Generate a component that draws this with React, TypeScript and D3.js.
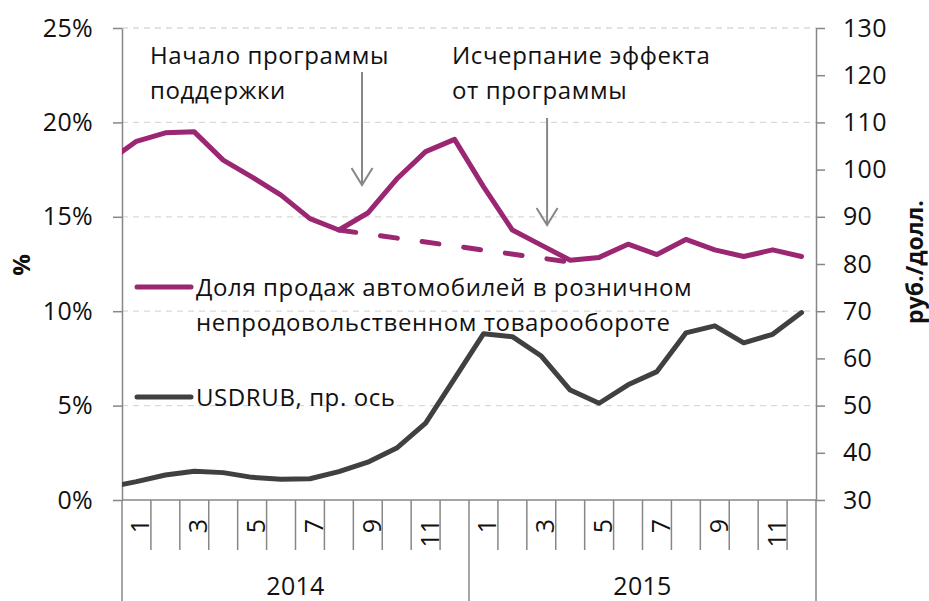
import React, { useEffect, useRef } from 'react';
import * as d3 from 'd3';

// first point of each series is Dec 2013: it sits left of the plot and gets clipped
const monthLabels = ['1', '2', '3', '4', '5', '6', '7', '8', '9', '10', '11', '12',
  '1', '2', '3', '4', '5', '6', '7', '8', '9', '10', '11', '12'];
const years = ['2014', '2015'];

const carShare = [17.9, 19.0, 19.45, 19.5, 18.0, 17.1, 16.15, 14.9, 14.3, 15.2, 17.0, 18.45, 19.1,
  16.6, 14.3, 13.5, 12.7, 12.85, 13.55, 13.0, 13.8, 13.25, 12.9, 13.25, 12.9];
const usdRub = [32.7, 33.9, 35.3, 36.1, 35.8, 34.8, 34.4, 34.5, 36.0, 38.0, 41.0, 46.3, 55.7,
  65.2, 64.6, 60.5, 53.3, 50.5, 54.4, 57.2, 65.4, 66.9, 63.3, 65.1, 69.7];

// dashed "no programme" path, month positions (0 = Jan 2014)
const trendMonths = [7, 15];
const trendValues = [14.3, 12.6];

const leftTicks = [0, 5, 10, 15, 20, 25];
const rightTicks = [30, 40, 50, 60, 70, 80, 90, 100, 110, 120, 130];

const seriesNames = ['Доля продаж автомобилей в розничном', 'непродовольственном товарообороте'];
const usdName = 'USDRUB, пр. ось';
const notes = [
  { lines: ['Начало программы', 'поддержки'], textX: 150, month: 7.8, from: 72, to: 185 },
  { lines: ['Исчерпание эффекта', 'от программы'], textX: 452, month: 14.2, from: 118, to: 225 },
];

const PINK = '#9b2672';
const DARK = '#404040';
const GREY = '#878787';
const FONT = '"Open Sans", sans-serif';

export default function App() {
  const ref = useRef<SVGSVGElement>(null);

  useEffect(() => {
    const W = 929, H = 601;
    const margin = { top: 28, right: 113, bottom: 101, left: 122 };
    const width = W - margin.left - margin.right;
    const height = H - margin.top - margin.bottom;

    const svg = d3.select(ref.current);
    svg.selectAll('*').remove();

    const x = d3.scaleLinear().domain([0, monthLabels.length]).range([0, width]);
    const yL = d3.scaleLinear().domain([0, 25]).range([height, 0]);
    const yR = d3.scaleLinear().domain([30, 130]).range([height, 0]);

    svg.append('defs').append('clipPath').attr('id', 'plot-clip')
      .append('rect').attr('x', 0).attr('y', -10).attr('width', width).attr('height', height + 20);

    const g = svg.append('g').attr('transform', 'translate(' + margin.left + ',' + margin.top + ')');

    // gridlines
    g.append('g').selectAll('line')
      .data(leftTicks.filter(d => d > 0))
      .enter().append('line')
      .attr('x1', 0).attr('x2', width)
      .attr('y1', d => yL(d)).attr('y2', d => yL(d))
      .attr('stroke', '#d9d9d9').attr('stroke-width', 1.3)
      .attr('stroke-dasharray', '6 5');

    // value axes
    const left = g.append('g').call(
      d3.axisLeft(yL).tickValues(leftTicks).tickSize(9).tickSizeOuter(0).tickPadding(20)
        .tickFormat(d => d + '%')
    );
    const right = g.append('g').attr('transform', 'translate(' + width + ',0)').call(
      d3.axisRight(yR).tickValues(rightTicks).tickSize(9).tickSizeOuter(0).tickPadding(18)
    );
    [left, right].forEach(a => {
      a.selectAll('path, line').attr('stroke', GREY).attr('stroke-width', 1.5);
      a.selectAll('text').attr('font-family', FONT).attr('font-size', 25)
        .attr('letter-spacing', 0.3).attr('fill', '#111');
    });

    // category axis
    const bottom = g.append('g').attr('transform', 'translate(0,' + height + ')');
    bottom.append('line').attr('x1', 0).attr('x2', width)
      .attr('stroke', GREY).attr('stroke-width', 1.5);
    bottom.selectAll('.sep')
      .data(d3.range(monthLabels.length + 1))
      .enter().append('line')
      .attr('x1', d => x(d)).attr('x2', d => x(d))
      .attr('y1', 0).attr('y2', d => (d % 12 === 0 ? margin.bottom : 50))
      .attr('stroke', GREY).attr('stroke-width', 1.5);
    bottom.selectAll('.month')
      .data(monthLabels.map((m, i) => ({ m, i })).filter(d => d.i % 2 === 0))
      .enter().append('text')
      .attr('transform', d => 'translate(' + (x(d.i + 0.5) + 3) + ',19) rotate(-90)')
      .attr('text-anchor', 'end')
      .attr('dominant-baseline', 'central')
      .attr('font-family', FONT).attr('font-size', 25).attr('fill', '#111')
      .text(d => d.m);
    bottom.selectAll('.year')
      .data(years)
      .enter().append('text')
      .attr('x', (d, i) => x(i * 12 + 6))
      .attr('y', 95)
      .attr('text-anchor', 'middle')
      .attr('font-family', FONT).attr('font-size', 25).attr('letter-spacing', 0.3).attr('fill', '#111')
      .text(d => d);

    // axis titles
    svg.append('text')
      .attr('transform', 'translate(20,265) rotate(-90)')
      .attr('text-anchor', 'middle').attr('dominant-baseline', 'central')
      .attr('font-family', FONT).attr('font-size', 24).attr('font-weight', 'bold').attr('fill', '#111')
      .text('%');
    svg.append('text')
      .attr('transform', 'translate(914,262) rotate(-90)')
      .attr('text-anchor', 'middle').attr('dominant-baseline', 'central')
      .attr('font-family', FONT).attr('font-size', 23).attr('font-weight', 'bold').attr('fill', '#111')
      .text('руб./долл.');

    // lines
    const lines = g.append('g').attr('clip-path', 'url(#plot-clip)');
    const xi = (d: number, i: number) => x(i - 0.5);

    lines.append('path')
      .datum(usdRub)
      .attr('fill', 'none').attr('stroke', DARK).attr('stroke-width', 5)
      .attr('stroke-linejoin', 'round').attr('stroke-linecap', 'round')
      .attr('d', d3.line<number>().x(xi).y(d => yR(d)));

    lines.append('path')
      .datum(trendMonths.map((m, i) => [m, trendValues[i]]))
      .attr('fill', 'none').attr('stroke', PINK).attr('stroke-width', 5)
      .attr('stroke-linecap', 'round').attr('stroke-dasharray', '17 25')
      .attr('d', d3.line<number[]>().x(d => x(d[0] + 0.5)).y(d => yL(d[1])));

    lines.append('path')
      .datum(carShare)
      .attr('fill', 'none').attr('stroke', PINK).attr('stroke-width', 5)
      .attr('stroke-linejoin', 'round').attr('stroke-linecap', 'round')
      .attr('d', d3.line<number>().x(xi).y(d => yL(d)));

    // annotations with arrows
    notes.forEach(n => {
      const ax = margin.left + x(n.month + 0.5);
      const t = svg.append('text')
        .attr('font-family', FONT).attr('font-size', 24).attr('letter-spacing', 0.6).attr('fill', '#111');
      n.lines.forEach((l, j) => {
        t.append('tspan').attr('x', n.textX).attr('y', 64 + j * 35).text(l);
      });
      const a = svg.append('g').attr('stroke', GREY).attr('stroke-width', 2).attr('fill', 'none');
      a.append('line').attr('x1', ax).attr('x2', ax).attr('y1', n.from).attr('y2', n.to);
      a.append('path').attr('d', 'M' + (ax - 10.5) + ',' + (n.to - 17) + 'L' + ax + ',' + n.to + 'L' + (ax + 10.5) + ',' + (n.to - 17));
    });

    // legend
    const legend = svg.append('g');
    const items = [
      { color: PINK, y: 287, text: seriesNames },
      { color: DARK, y: 397, text: [usdName] },
    ];
    items.forEach(it => {
      legend.append('line')
        .attr('x1', 137).attr('x2', 191).attr('y1', it.y).attr('y2', it.y)
        .attr('stroke', it.color).attr('stroke-width', 5).attr('stroke-linecap', 'round');
      const t = legend.append('text')
        .attr('font-family', FONT).attr('font-size', 24).attr('letter-spacing', 0.6).attr('fill', '#111');
      it.text.forEach((l, j) => {
        t.append('tspan').attr('x', 196).attr('y', it.y + 9 + j * 35).text(l);
      });
    });
  }, []);

  return (
    <div style={{ position: 'absolute', left: 0, top: 0 }}>
      <svg ref={ref} width={929} height={601} style={{ display: 'block', background: '#fff' }} />
    </div>
  );
}
